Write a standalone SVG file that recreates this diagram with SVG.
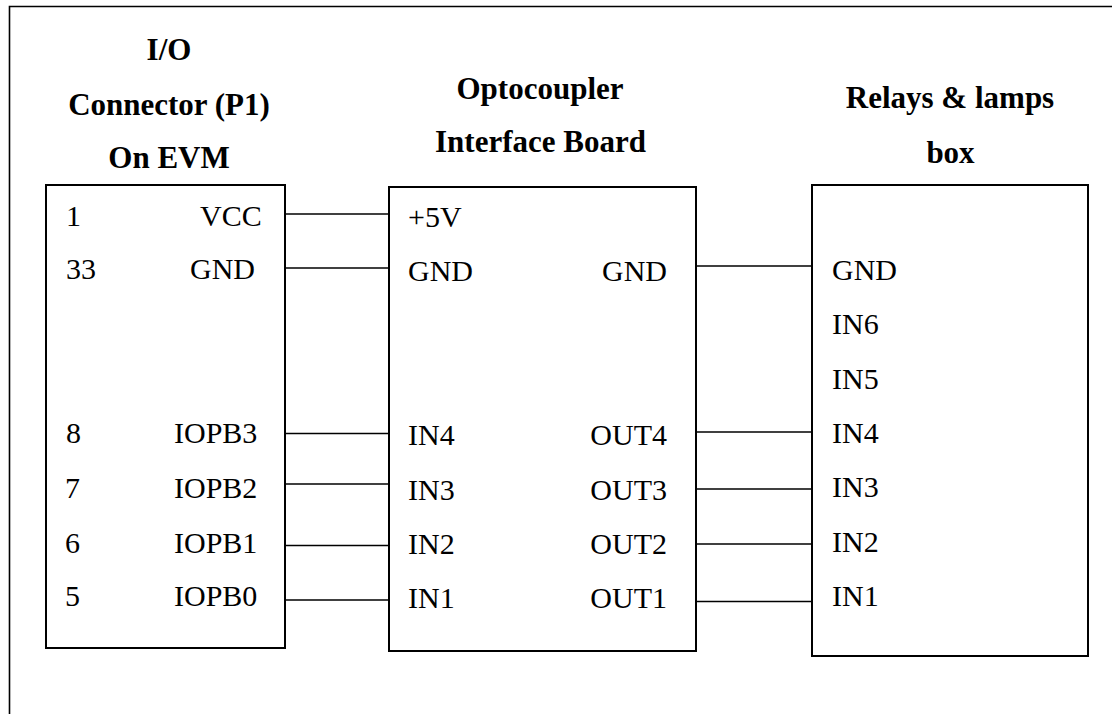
<svg xmlns="http://www.w3.org/2000/svg" width="1112" height="714" viewBox="0 0 1112 714">
<style>
.box{fill:#fff;stroke:#000;stroke-width:2}
.ln{stroke:#000;stroke-width:1.6;fill:none}
.t{font-family:"Liberation Serif","Times New Roman",serif;font-size:30px;fill:#000}
.h{font-family:"Liberation Serif","Times New Roman",serif;font-size:31px;font-weight:bold;fill:#000;text-anchor:middle}
.e{text-anchor:end}
</style>
<rect width="1112" height="714" fill="#fff"/>
<path class="ln" d="M9.5,714 V6.5 H1112" stroke-width="2"/>
<g id="connectors">
<line class="ln" x1="284" y1="214" x2="389" y2="214"/>
<line class="ln" x1="284" y1="268" x2="389" y2="268"/>
<line class="ln" x1="283" y1="433.5" x2="389" y2="433.5"/>
<line class="ln" x1="283" y1="484" x2="389" y2="484"/>
<line class="ln" x1="285" y1="545.5" x2="391" y2="545.5"/>
<line class="ln" x1="286" y1="600" x2="392" y2="600"/>
<line class="ln" x1="696" y1="266" x2="812" y2="266"/>
<line class="ln" x1="696" y1="432" x2="812" y2="432"/>
<line class="ln" x1="696" y1="489" x2="812" y2="489"/>
<line class="ln" x1="696" y1="544" x2="812" y2="544"/>
<line class="ln" x1="696" y1="601.5" x2="812" y2="601.5"/>
</g>
<g id="io-connector">
<text class="h" x="169" y="60">I/O</text>
<text class="h" x="169" y="115">Connector (P1)</text>
<text class="h" x="169" y="168">On EVM</text>
<rect class="box" x="46" y="185" width="239" height="463"/>
<text class="t" x="66" y="225.5">1</text>
<text class="t" x="200" y="225.5">VCC</text>
<text class="t" x="66" y="279">33</text>
<text class="t" x="190" y="279">GND</text>
<text class="t" x="66" y="443">8</text>
<text class="t" x="174" y="443">IOPB3</text>
<text class="t" x="65" y="497.5">7</text>
<text class="t" x="174" y="497.5">IOPB2</text>
<text class="t" x="65" y="552.5">6</text>
<text class="t" x="174" y="552.5">IOPB1</text>
<text class="t" x="65" y="606">5</text>
<text class="t" x="174" y="606">IOPB0</text>
</g>
<g id="optocoupler-board">
<text class="h" x="540" y="98.5">Optocoupler</text>
<text class="h" x="540.5" y="151.5">Interface Board</text>
<rect class="box" x="389" y="187" width="307" height="464"/>
<text class="t" x="408" y="226.5">+5V</text>
<text class="t" x="408" y="281">GND</text>
<text class="t e" x="667" y="281">GND</text>
<text class="t" x="408" y="445">IN4</text>
<text class="t e" x="667" y="445">OUT4</text>
<text class="t" x="408" y="499.5">IN3</text>
<text class="t e" x="667" y="499.5">OUT3</text>
<text class="t" x="408" y="554">IN2</text>
<text class="t e" x="667" y="554">OUT2</text>
<text class="t" x="408" y="608">IN1</text>
<text class="t e" x="667" y="608">OUT1</text>
</g>
<g id="relays-box">
<text class="h" x="950" y="108">Relays &amp; lamps</text>
<text class="h" x="950.5" y="163">box</text>
<rect class="box" x="812" y="185" width="276" height="471"/>
<text class="t" x="832" y="279.5">GND</text>
<text class="t" x="832" y="334">IN6</text>
<text class="t" x="832" y="388.5">IN5</text>
<text class="t" x="832" y="442.5">IN4</text>
<text class="t" x="832" y="497">IN3</text>
<text class="t" x="832" y="551.5">IN2</text>
<text class="t" x="832" y="606">IN1</text>
</g>
</svg>
